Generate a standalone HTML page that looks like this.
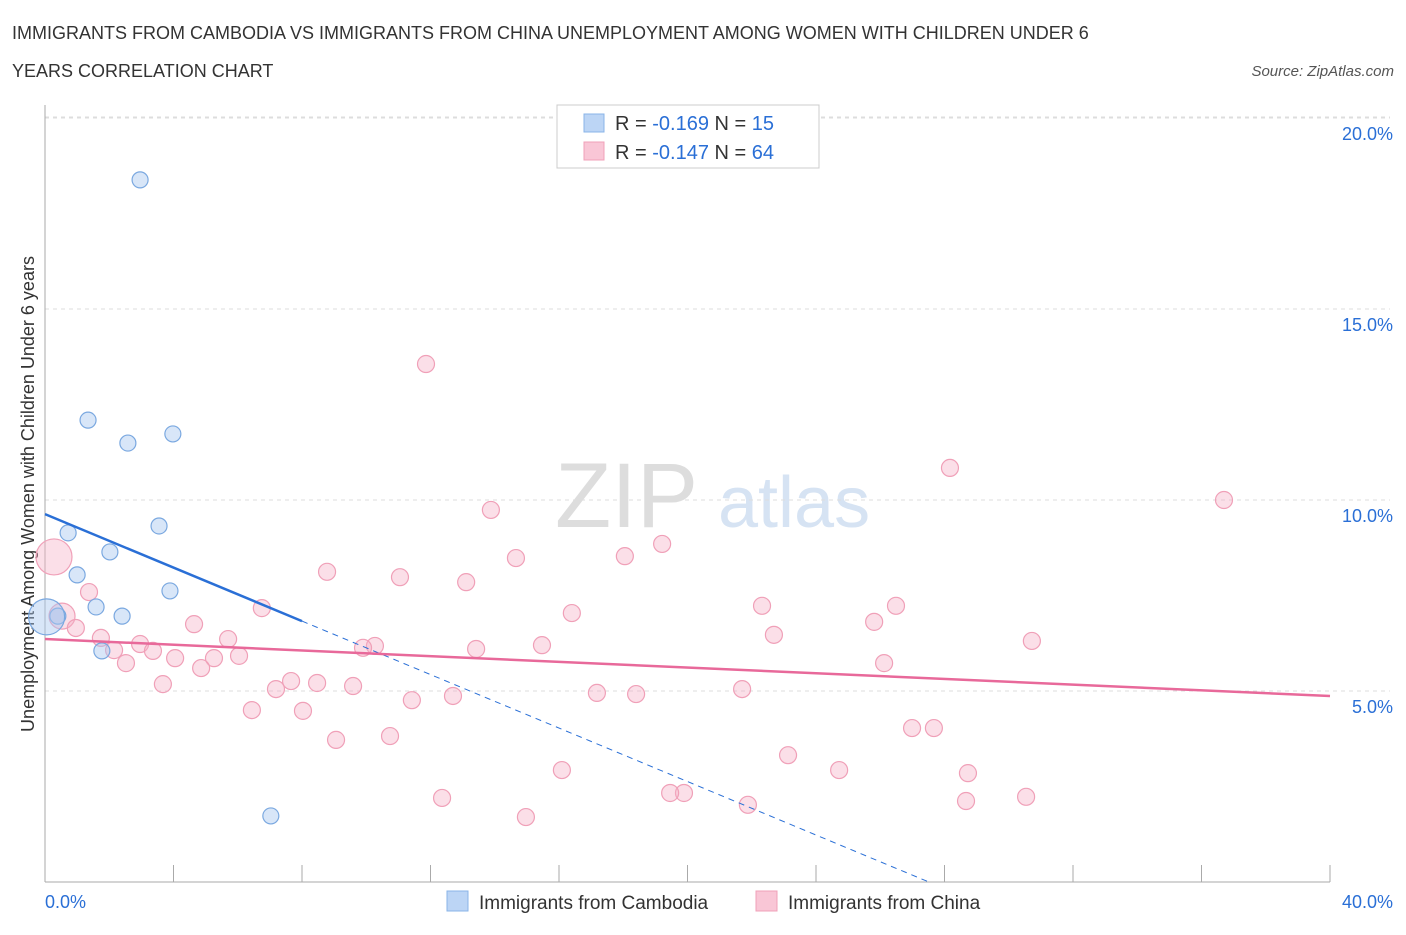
<!DOCTYPE html>
<html><head><meta charset="utf-8"><style>
body{margin:0;background:#fff;font-family:"Liberation Sans",sans-serif;}
svg text{font-family:"Liberation Sans",sans-serif;}
</style></head><body>
<svg id="chart" width="1406" height="930" xmlns="http://www.w3.org/2000/svg">
<text x="12" y="39" font-size="18" fill="#333">IMMIGRANTS FROM CAMBODIA VS IMMIGRANTS FROM CHINA UNEMPLOYMENT AMONG WOMEN WITH CHILDREN UNDER 6</text>
<text x="12" y="77" font-size="18" fill="#333">YEARS CORRELATION CHART</text>
<text x="1394" y="76" font-size="15" fill="#555" font-style="italic" text-anchor="end">Source: ZipAtlas.com</text>
<text x="555" y="527" font-size="92" fill="#ddd" font-family="Liberation Serif">ZIP</text>
<text x="718" y="527" font-size="72" fill="#d6e3f3">atlas</text>
<text transform="translate(34,494) rotate(-90)" font-size="18" fill="#333" text-anchor="middle">Unemployment Among Women with Children Under 6 years</text>
<g id="grid"></g><g id="marks"></g>
<g>
<rect x="557" y="105" width="262" height="63" fill="#fff" stroke="#ccc"/>
<rect x="584" y="114" width="20" height="18" fill="#bcd5f5" stroke="#8ab4e8"/>
<rect x="584" y="142" width="20" height="18" fill="#f9c6d6" stroke="#f0a0b8"/>
<text x="615" y="130" font-size="20" fill="#333">R = <tspan fill="#2a6fd6">-0.169</tspan>   N =  <tspan fill="#2a6fd6">15</tspan></text>
<text x="615" y="159" font-size="20" fill="#333">R = <tspan fill="#2a6fd6">-0.147</tspan>   N = <tspan fill="#2a6fd6">64</tspan></text>
</g>
<g>
<rect x="447" y="891" width="21" height="20" fill="#bcd5f5" stroke="#8ab4e8"/>
<text x="479" y="909" font-size="19" fill="#333">Immigrants from Cambodia</text>
<rect x="756" y="891" width="21" height="20" fill="#f9c6d6" stroke="#f0a0b8"/>
<text x="788" y="909" font-size="19" fill="#333">Immigrants from China</text>
</g>
</svg>
<script>
const xTicks=[0,5,10,15,20,25,30,35,40];
const yTicks=[5,10,15,20];
const camX=[2.96,1.34,2.58,3.98,0.72,3.55,2.02,1.0,3.89,1.59,2.4,0.4,0.05,1.77,7.03];
const camY=[18.38,12.09,11.49,11.73,9.14,9.32,8.64,8.04,7.62,7.2,6.96,6.96,6.94,6.05,1.73];
const camR=[8,8,8,8,8,8,8,8,8,8,8,8,18,8,8];
const chX=[11.86,28.17,36.70,13.88,19.21,14.66,18.05,0.28,8.78,11.05,13.11,1.37,16.40,6.75,22.32,26.49,0.53,25.81,4.64,22.69,0.96,30.72,1.74,5.70,2.96,10.27,9.90,13.42,15.47,2.15,3.36,2.52,4.05,5.26,6.04,26.12,4.86,7.66,8.47,3.67,7.19,9.59,21.70,17.18,18.40,12.70,11.42,6.44,8.03,26.99,27.67,9.06,10.74,23.13,16.09,24.72,28.73,12.36,30.54,19.89,19.46,28.67,21.88,14.97];
const chY=[13.56,10.84,10.0,9.74,8.85,8.48,8.53,8.51,8.12,7.98,7.85,7.59,7.04,7.17,7.23,7.23,6.96,6.81,6.75,6.47,6.65,6.31,6.39,6.36,6.23,6.18,6.13,6.10,6.20,6.07,6.05,5.73,5.86,5.86,5.92,5.73,5.60,5.26,5.21,5.18,5.05,5.13,5.05,4.95,4.92,4.87,4.76,4.50,4.48,4.03,4.03,3.72,3.82,3.32,2.93,2.93,2.85,2.20,2.23,2.33,2.33,2.12,2.02,1.70];
const camTrend=[9.63,-0.35];
const chTrend=[6.36,-0.0373];
const X=v=>45+v*32.125, Y=v=>882-v*38.2;
const NS='http://www.w3.org/2000/svg';
const grid=document.getElementById('grid'), marks=document.getElementById('marks');
function mk(t,a,p){const e=document.createElementNS(NS,t);for(const k in a)e.setAttribute(k,a[k]);p.appendChild(e);return e;}
yTicks.forEach(v=>{
 const l=mk('line',{x1:45,x2:1390,y1:Y(v),y2:Y(v),stroke:'#ddd','stroke-dasharray':'4,4'},grid);
 
 
 const t=mk('text',{x:1393,y:Y(v)+22,'font-size':18,fill:'#2a6fd6','text-anchor':'end'},grid);t.textContent=v.toFixed(1)+'%';
 
 
});
mk('line',{x1:45,x2:1390,y1:Y(20)-1,y2:Y(20)-1,stroke:'#ddd','stroke-dasharray':'4,4'},grid);
mk('line',{x1:45,x2:45,y1:105,y2:882,stroke:'#aaa'},grid);
mk('line',{x1:45,x2:1330,y1:882,y2:882,stroke:'#aaa'},grid);
for(let i=0;i<=10;i++){const l=mk('line',{x1:X(i*4),x2:X(i*4),y1:865,y2:882,stroke:'#aaa'},grid);
 
 }
[[0,'start',45],[40,'end',1393]].forEach(([v,a,x])=>{const t=mk('text',{x:x,y:908,'font-size':18,fill:'#2a6fd6','text-anchor':a},grid);t.textContent=v.toFixed(1)+'%';
 
 });
chX.forEach((v,i)=>{const c=mk('circle',{cx:X(v),cy:Y(chY[i]),r:i==7?18:(i==16?13:8.5),fill:'rgba(244,175,198,0.4)',stroke:'#f0a0b8','stroke-width':1.2},marks);
 
 });
camX.forEach((v,i)=>{const c=mk('circle',{cx:X(v),cy:Y(camY[i]),r:camR[i],fill:'rgba(168,200,240,0.45)',stroke:'#7aa8e0','stroke-width':1.2},marks);
 
 });
const cl=mk('line',{x1:X(0),y1:Y(camTrend[0]),x2:X(8),y2:Y(camTrend[0]+camTrend[1]*8),stroke:'#2a6fd6','stroke-width':2.5},marks);


const xe=-camTrend[0]/camTrend[1];
const cd=mk('line',{x1:X(8),y1:Y(camTrend[0]+camTrend[1]*8),x2:X(xe),y2:Y(0),stroke:'#2a6fd6','stroke-width':1,'stroke-dasharray':'6,5'},marks);


const hl=mk('line',{x1:X(0),y1:Y(chTrend[0]),x2:X(40),y2:Y(chTrend[0]+chTrend[1]*40),stroke:'#e8699a','stroke-width':2.5},marks);


</script>
</body></html>
